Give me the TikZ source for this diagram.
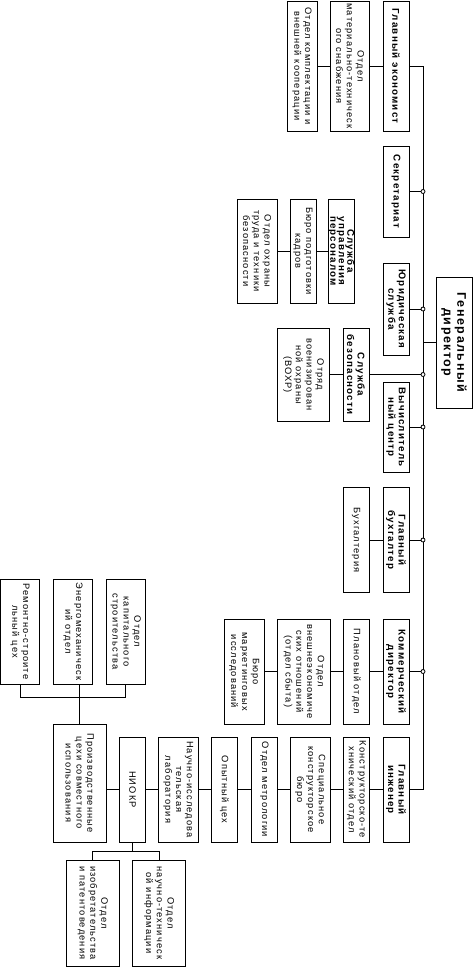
\documentclass[tikz,border=0pt]{standalone}
\usepackage{fontspec}
\setmainfont{Liberation Sans}[LetterSpace=12]

\tikzset{
  unit/.style={draw, rotate=-90, align=center, inner sep=0pt,
    font=\fontsize{9.8}{10.5}\selectfont\bfseries},
  dept/.style={draw, rotate=-90, align=center, inner sep=0pt,
    font=\fontsize{9.3}{10.8}\selectfont},
  dot/.style={draw, circle, fill=white, inner sep=0pt, minimum size=4pt},
}

\begin{document}
\begin{tikzpicture}[x=1pt, y=-1pt, line width=0.8pt]

    \useasboundingbox (0,0) rectangle (476,967);

    %% Director and first level
    \node[unit, font=\fontsize{12.5}{13.5}\selectfont\bfseries,
      minimum width=131pt, minimum height=36pt] (gendir) at (454,342.5) {Генеральный\\директор};
    \node[unit, minimum width=130pt, minimum height=26pt] (econ) at (396,66) {Главный экономист};
    \node[unit, minimum width=91pt, minimum height=26pt] (sekr) at (396,191.5) {Секретариат};
    \node[unit, font=\fontsize{9.8}{8.5}\selectfont\bfseries,
      minimum width=104pt, minimum height=25pt] (kadry) at (341.5,251) {Служба\\управления\\персоналом};
    \node[unit, minimum width=92pt, minimum height=26pt] (yur) at (396,309) {Юридическая\\служба};
    \node[unit, minimum width=93pt, minimum height=26pt] (bezop) at (356,374.5) {Служба\\безопасности};
    \node[unit, minimum width=90pt, minimum height=26pt] (vc) at (396,427) {Вычислитель\\ный центр};
    \node[unit, minimum width=104.5pt, minimum height=26pt] (glbuh) at (396,540) {Главный\\бухгалтер};
    \node[unit, minimum width=105pt, minimum height=26pt] (kommdir) at (396,671.5) {Коммерческий\\директор};
    \node[unit, minimum width=105pt, minimum height=26pt] (ingener) at (396,789.5) {Главный\\инженер};

    %% Departments
    \node[dept, minimum width=130pt, minimum height=38.5pt] (snab) at (350,66) {Отдел\\материально-техническ\\ого снабжения};
    \node[dept, minimum width=130pt, minimum height=30pt] (kompl) at (302,66) {Отдел комплектации и\\внешней кооперации};
    \node[dept, minimum width=104pt, minimum height=26pt] (podgot) at (303,251) {Бюро подготовки\\кадров};
    \node[dept, minimum width=104pt, minimum height=40pt] (ohrana) at (257,251) {Отдел охраны\\труда и техники\\безопасности};
    \node[dept, minimum width=93pt, minimum height=51.6pt] (vohr) at (303.5,374.5) {Отряд\\военизирован\\ной охраны\\(ВОХР)};
    \node[dept, minimum width=104.5pt, minimum height=26pt] (buh) at (356,540) {Бухгалтерия};
    \node[dept, minimum width=105pt, minimum height=26.7pt] (plan) at (356.5,671.5) {Плановый отдел};
    \node[dept, minimum width=105pt, minimum height=53pt] (sbyt) at (304,671.5) {Отдел\\внешнеэкономиче\\ских отношений\\(отдел сбыта)};
    \node[dept, minimum width=105pt, minimum height=40pt] (market) at (244.3,671.5) {Бюро\\маркетинговых\\исследований};
    \node[dept, minimum width=105pt, minimum height=26.7pt] (kto) at (356.5,789.5) {Конструкторско-те\\хнический отдел};
    \node[dept, minimum width=105pt, minimum height=39.3pt] (skb) at (310.3,789.5) {Специальное\\конструкторское\\бюро};
    \node[dept, minimum width=105pt, minimum height=25.6pt] (metrol) at (264.5,789.5) {Отдел метрологии};
    \node[dept, minimum width=105pt, minimum height=25.6pt] (opyt) at (224.5,789.5) {Опытный цех};
    \node[dept, minimum width=105pt, minimum height=40pt] (nil) at (178.4,789.5) {Научно-исследова\\тельская\\лаборатория};
    \node[dept, minimum width=105pt, minimum height=26.4pt] (niokr) at (132.5,789.5) {НИОКР};
    \node[dept, minimum width=118pt, minimum height=52.7pt] (ceh) at (79.7,783) {Производственные\\цехи совместного\\использования};
    \node[dept, minimum width=105pt, minimum height=39.7pt] (kapstr) at (125.8,631.5) {Отдел\\капитального\\строительства};
    \node[dept, minimum width=105pt, minimum height=39.4pt] (energo) at (73,631.5) {Энергомеханическ\\ий отдел};
    \node[dept, minimum width=105pt, minimum height=38.6pt] (remont) at (20,631.5) {Ремонтно-строите\\льный цех};
    \node[dept, minimum width=106pt, minimum height=53pt] (nti) at (159.2,913) {Отдел\\научно-техническ\\ой информации};
    \node[dept, minimum width=106pt, minimum height=52.3pt] (patent) at (92.8,913) {Отдел\\изобретательства\\и патентоведения};

    %% Bus
    \coordinate (bustop) at (423,66);
    \coordinate (busbot) at (423,789.5);
    \draw (econ.north) -- (bustop) -- (busbot) -- (ingener.north);
    \draw (gendir.south) -- (gendir.south -| bustop);
    \draw (sekr.north) -- (sekr.north -| bustop) node[dot] {};
    \draw (yur.north) -- (yur.north -| bustop) node[dot] {};
    \draw (bezop.north) -- (bezop.north -| bustop) node[dot] {};
    \draw (vc.north) -- (vc.north -| bustop) node[dot] {};
    \draw (glbuh.north) -- (glbuh.north -| bustop) node[dot] {};
    \draw (kommdir.north) -- (kommdir.north -| bustop) node[dot] {};

    %% Chains
    \draw (econ.south) -- (snab.north);
    \draw (snab.south) -- (kompl.north);
    \draw (kadry.south) -- (podgot.north);
    \draw (podgot.south) -- (ohrana.north);
    \draw (bezop.south) -- (vohr.north);
    \draw (glbuh.south) -- (buh.north);
    \draw (kommdir.south) -- (plan.north);
    \draw (plan.south) -- (sbyt.north);
    \draw (sbyt.south) -- (market.north);
    \draw (ingener.south) -- (kto.north);
    \draw (kto.south) -- (skb.north);
    \draw (skb.south) -- (metrol.north);
    \draw (metrol.south) -- (opyt.north);
    \draw (opyt.south) -- (nil.north);
    \draw (nil.south) -- (niokr.north);
    \draw (niokr.south) -- (niokr.south -| ceh.north);

    % Forks
    \coordinate (cehfork) at (79.7,697);
    \draw (remont.east) |- (cehfork) -| (kapstr.east);
    \draw (ceh.west) -- (ceh.west |- energo.east);
    \coordinate (niokrfork) at (132.5,851);
    \draw (niokr.east) -- (niokrfork);
    \draw (patent.west) |- (niokrfork) -| (nti.west);

\end{tikzpicture}
\end{document}
